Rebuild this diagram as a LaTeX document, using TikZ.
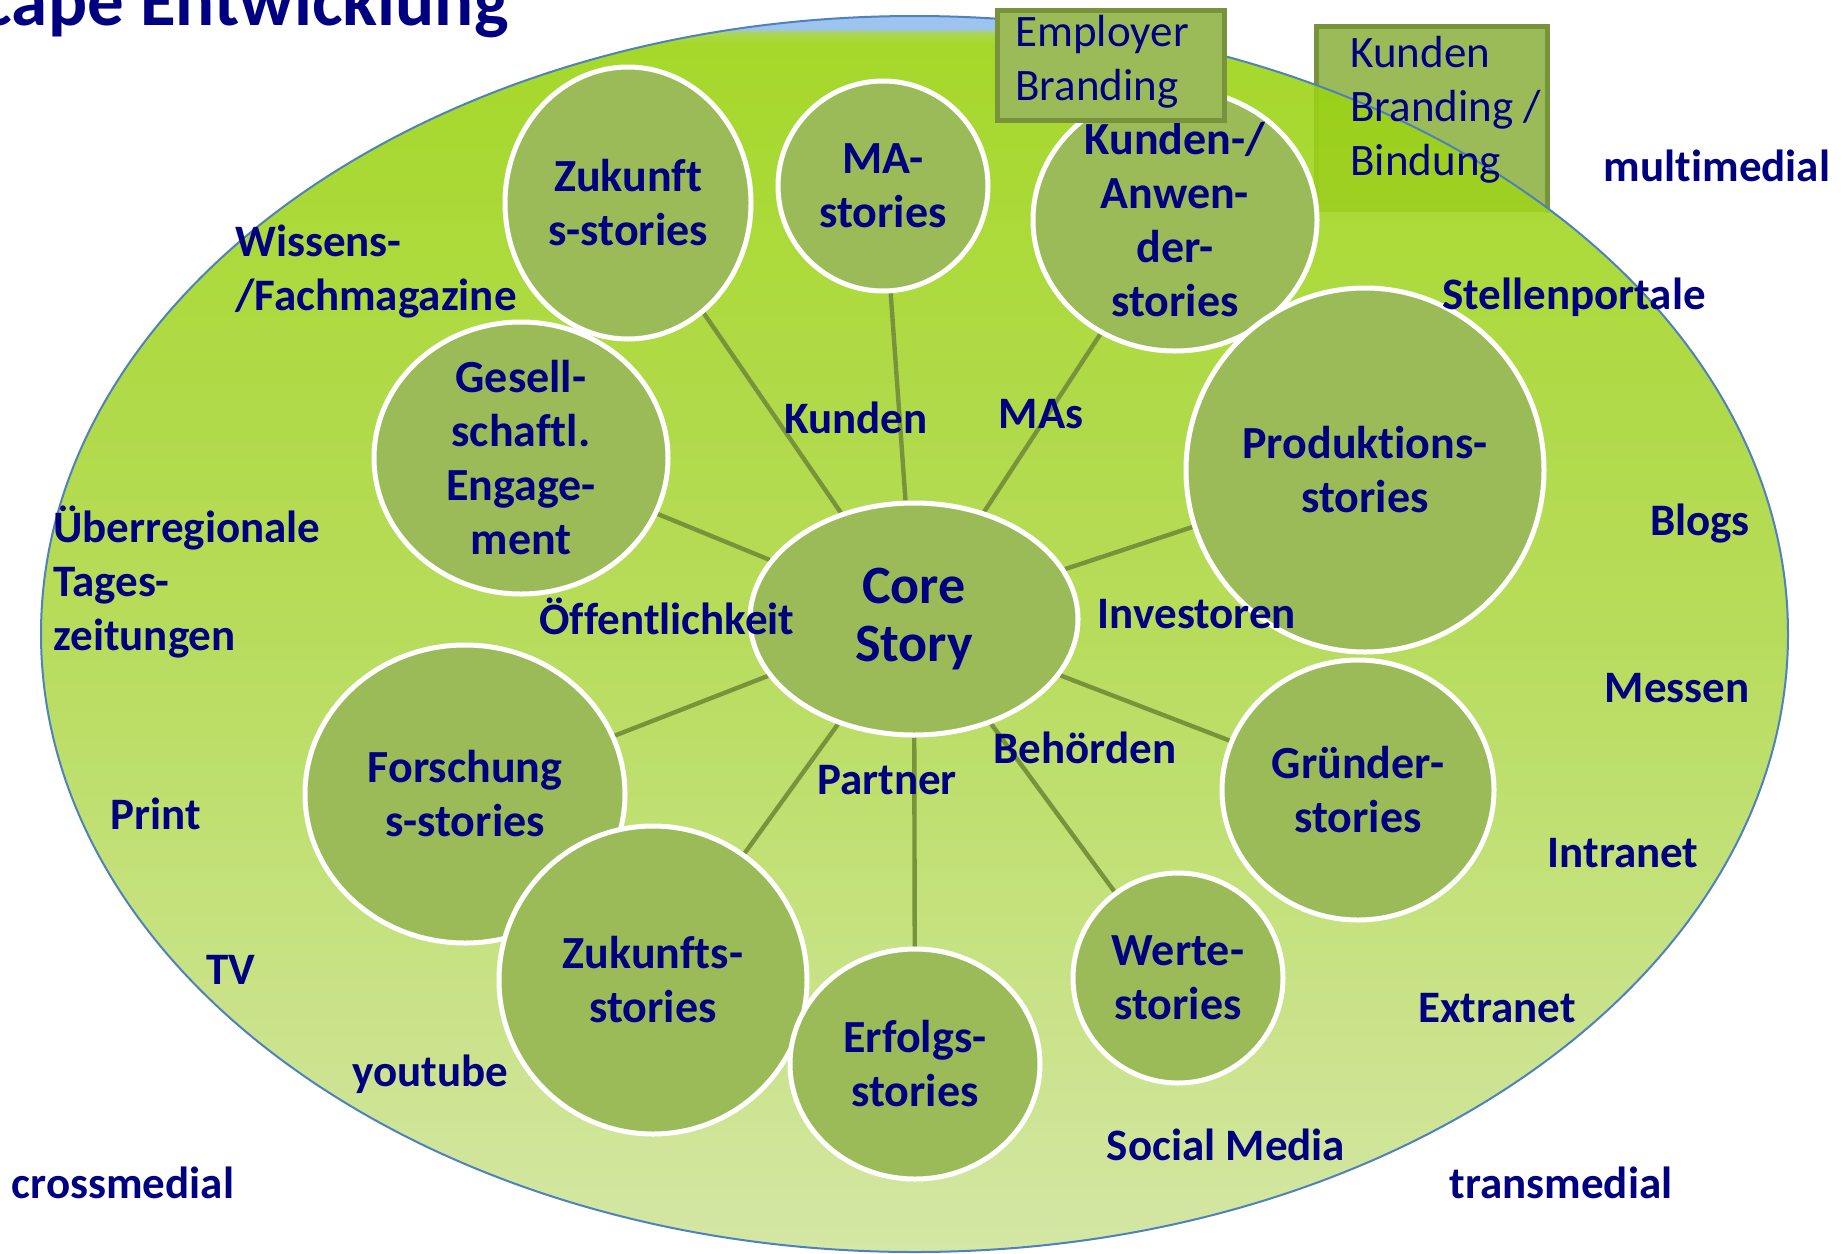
\documentclass[tikz,border=0pt]{standalone}
\usepackage{fontspec}
\setmainfont{Carlito}[Ligatures=NoCommon]
\usetikzlibrary{shapes.geometric}
\pgfdeclarelayer{boxlayer}
\pgfdeclarelayer{bglayer}
\pgfdeclarelayer{linelayer}
\pgfsetlayers{boxlayer,bglayer,linelayer,main}
\definecolor{navy}{RGB}{0,0,128}
\definecolor{olivefill}{RGB}{155,187,89}
\definecolor{olivedark}{RGB}{119,147,60}
\definecolor{ellblue}{RGB}{79,129,189}
\definecolor{shLime}{RGB}{154,211,13}
\definecolor{shMid}{RGB}{174,216,70}
\definecolor{shPale}{RGB}{207,228,153}
\definecolor{shBlue}{RGB}{144,187,238}
\definecolor{shLG}{RGB}{160,210,60}
\pgfdeclareverticalshading{bigshade}{100bp}{color(0bp)=(shPale); color(25bp)=(shPale); color(50bp)=(shMid); color(73.9bp)=(shLime); color(74.3bp)=(shLG); color(74.5bp)=(shBlue); color(100bp)=(shBlue)}
\begin{document}
\begin{tikzpicture}[x=0.5pt, y=-0.5pt,
  story/.style={ellipse, fill=olivefill, draw=white, line width=2.5pt, inner sep=0pt},
  storytext/.style={font=\bfseries\fontsize{23}{27}\selectfont, text=navy, align=center, inner sep=0pt},
  lbl/.style={font=\bfseries\fontsize{22.5}{27}\selectfont, text=navy, anchor=base, inner sep=0pt},
  link/.style={draw=olivedark, line width=2.2pt},
  boxfill/.style={fill=olivefill, draw=none, inner sep=0pt, anchor=north west},
  boxline/.style={draw=olivedark, line width=2.5pt},
  boxtext/.style={font=\fontsize{22.5}{27}\selectfont, text=navy, align=left, anchor=base west, inner sep=0pt}]
\useasboundingbox (0,0) rectangle (1842,1253);

% Kunden Branding box (behind the field)
\begin{pgfonlayer}{boxlayer}
\fill[white] (0,0) rectangle (1842,1253);
\node[boxfill, minimum width=115.5pt, minimum height=93pt] (kbox) at (1316,26) {};
\draw[boxline] (kbox.south west) -- (kbox.north west) -- (kbox.north east) -- (kbox.south east);
\end{pgfonlayer}

% title (cut off at top)
\node[font=\bfseries\fontsize{36.5}{40}\selectfont, text=navy, anchor=base east, inner sep=0pt] (title) at (509,25) {cape Entwicklung};

% big field
\begin{pgfonlayer}{bglayer}
\node[ellipse, draw=ellblue, line width=1pt, shading=bigshade, fill opacity=0.88, inner sep=0pt,
      minimum width=873.5pt, minimum height=618pt] (field) at (914.5,634) {};
\end{pgfonlayer}

% story circles
\node[story, minimum width=123pt, minimum height=136pt] (zuk1) at (628,203) {};
\node[story, minimum width=147pt, minimum height=136pt] (gesell) at (521,458) {};
\node[story, minimum width=105pt, minimum height=105pt] (ma) at (883,186) {};
\node[story, minimum width=142pt, minimum height=131pt] (kunden) at (1175,220) {};
\node[story, minimum width=179pt, minimum height=182pt] (prod) at (1365,470) {};
\node[story, minimum width=160pt, minimum height=149pt] (forsch) at (465,794) {};
\node[story, minimum width=154pt, minimum height=154pt] (zuk2) at (653,980) {};
\node[story, minimum width=125pt, minimum height=115pt] (erfolg) at (915,1064) {};
\node[story, minimum width=105pt, minimum height=105pt] (werte) at (1178,978) {};
\node[story, minimum width=136pt, minimum height=130pt] (gruender) at (1358,790) {};
\node[story, minimum width=164pt, minimum height=116pt] (core) at (914,619) {};

% connectors
\begin{pgfonlayer}{linelayer}
\foreach \n in {zuk1,gesell,ma,kunden,prod,forsch,zuk2,erfolg,werte,gruender}
  \draw[link] (core) -- (\n);
\end{pgfonlayer}

% circle texts
\node[storytext] (zuk1t) at (zuk1.center) {Zukunft\\s-stories};
\node[storytext] (gesellt) at (gesell.center) {Gesell-\\schaftl.\\Engage-\\ment};
\node[storytext] (mat) at (ma.center) {MA-\\stories};
\node[storytext] (kundent) at (kunden.center) {Kunden-/\\Anwen-\\der-\\stories};
\node[storytext] (prodt) at (prod.center) {Produktions-\\stories};
\node[storytext] (forscht) at (forsch.center) {Forschung\\s-stories};
\node[storytext] (zuk2t) at (zuk2.center) {Zukunfts-\\stories};
\node[storytext] (erfolgt) at (erfolg.center) {Erfolgs-\\stories};
\node[storytext] (wertet) at (werte.center) {Werte-\\stories};
\node[storytext] (gruendert) at (gruender.center) {Gründer-\\stories};
\node[storytext, font=\bfseries\fontsize{27}{29}\selectfont] (coret) at (core.center) {Core\\Story};

% Employer Branding box
\node[boxfill, draw=olivedark, line width=2.5pt, minimum width=113.5pt, minimum height=55pt] (ebox) at (994.5,7.5) {};
\node[boxtext] (etext) at (1015,100) {Employer\\Branding};
\node[boxtext] (ktext) at (1350,175) {Kunden\\Branding /\\Bindung};

% audience labels
\node[lbl] (l1) at (856,433) {Kunden};
\node[lbl] (l2) at (1041,428) {MAs};
\node[lbl] (l3) at (667,634) {Öffentlichkeit};
\node[lbl] (l4) at (1197,628) {Investoren};
\node[lbl] (l5) at (887,794) {Partner};
\node[lbl] (l6) at (1085,763) {Behörden};

% media labels
\node[lbl, anchor=base west, align=left] (m1) at (235,310) {Wissens-\\/Fachmagazine};
\node[lbl, anchor=base west, align=left] (m2) at (53,650) {Überregionale\\Tages-\\zeitungen};
\node[lbl] (m3) at (156,829) {Print};
\node[lbl] (m4) at (231,984) {TV};
\node[lbl] (m5) at (430,1086) {youtube};
\node[lbl] (m6) at (123,1198) {crossmedial};
\node[lbl] (m7) at (1226,1160) {Social Media};
\node[lbl] (m8) at (1561,1198) {transmedial};
\node[lbl] (m9) at (1497,1022) {Extranet};
\node[lbl] (m10) at (1623,867) {Intranet};
\node[lbl] (m11) at (1677,702) {Messen};
\node[lbl] (m12) at (1700,535) {Blogs};
\node[lbl] (m13) at (1574,309) {Stellenportale};
\node[lbl] (m14) at (1717,181) {multimedial};
\end{tikzpicture}
\end{document}
